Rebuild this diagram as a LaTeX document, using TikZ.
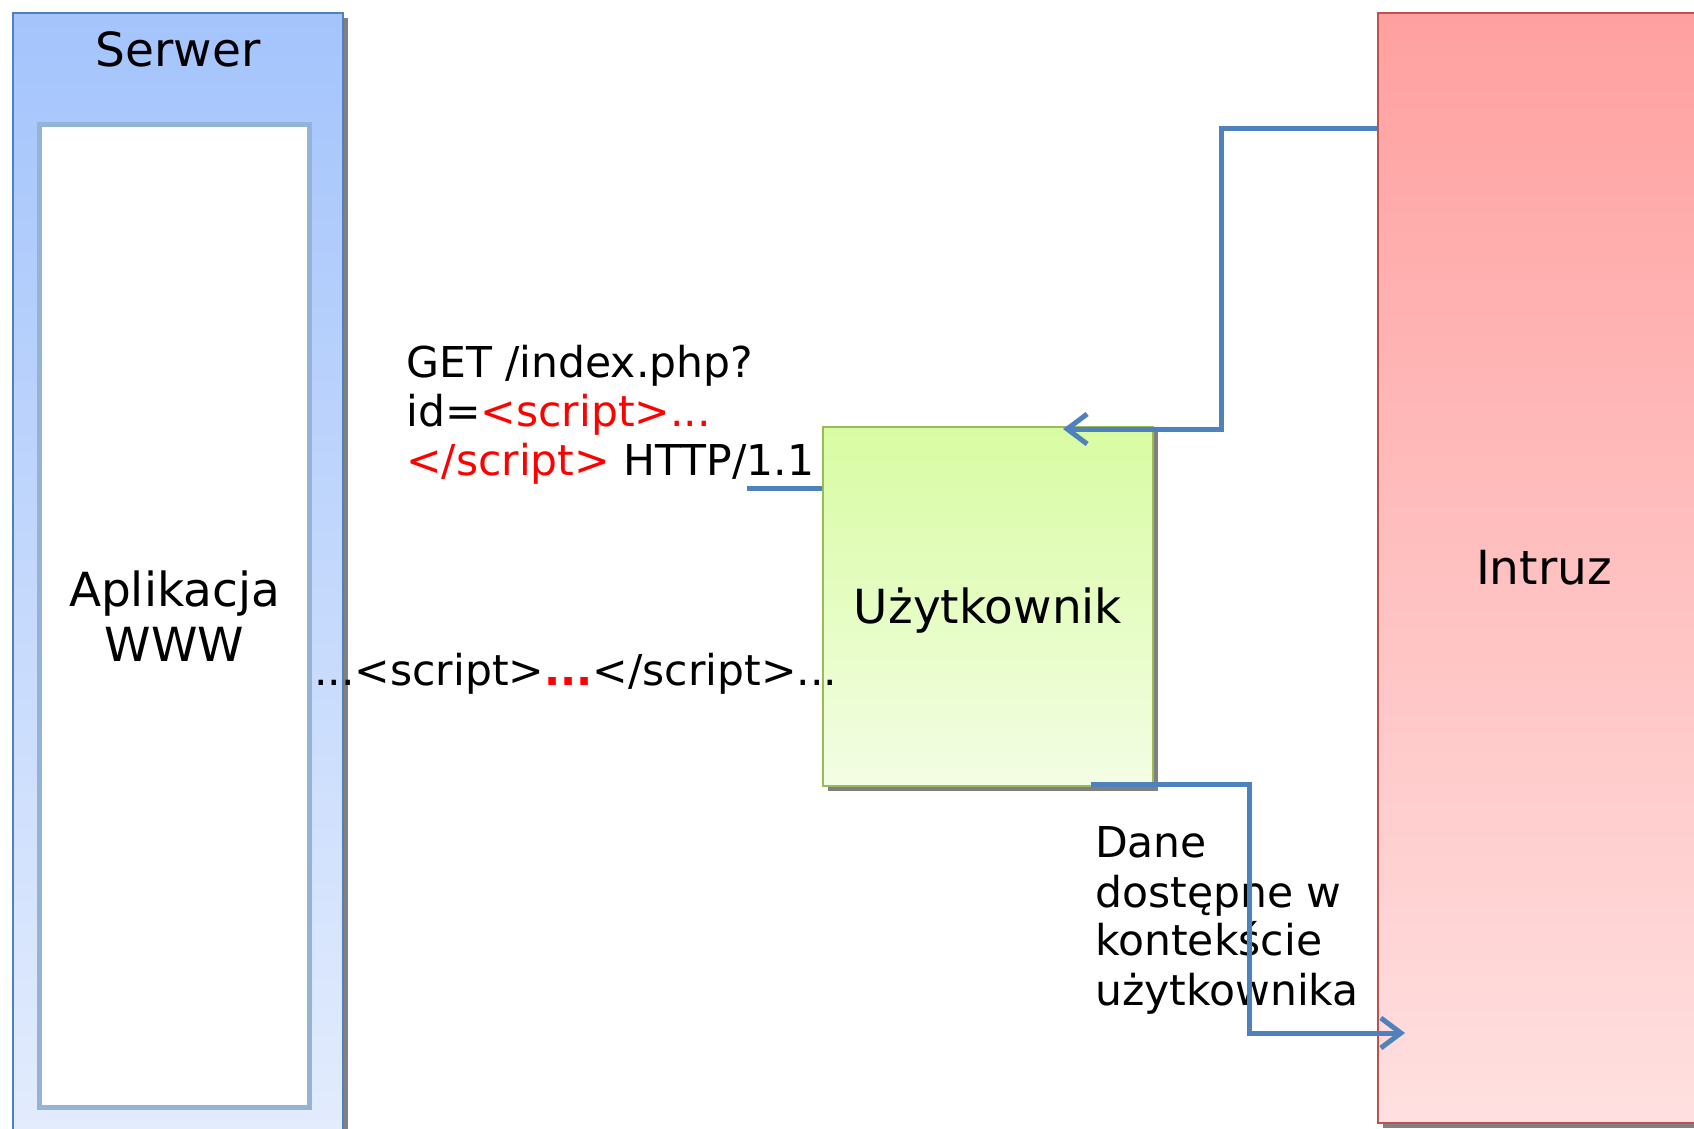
\documentclass[tikz,border=0pt]{standalone}
\usepackage{fontspec}
\setmainfont{DejaVu Sans}
\usetikzlibrary{arrows.meta,shadows}

\definecolor{srvtop}{RGB}{164,196,252}
\definecolor{srvbot}{RGB}{228,237,253}
\definecolor{srvline}{RGB}{79,129,189}
\definecolor{appline}{RGB}{149,179,215}
\definecolor{usrtop}{RGB}{216,252,162}
\definecolor{usrbot}{RGB}{243,253,228}
\definecolor{usrline}{RGB}{155,187,89}
\definecolor{inttop}{RGB}{255,160,160}
\definecolor{intbot}{RGB}{255,224,224}
\definecolor{intline}{RGB}{192,80,77}
\definecolor{linkblue}{RGB}{79,129,189}
\definecolor{shadowgray}{RGB}{128,128,128}

\begin{document}
\begin{tikzpicture}[x=1pt,y=-1pt,
  box/.style={rectangle, draw, line width=2pt, inner sep=0pt,
    drop shadow={shadow xshift=5pt, shadow yshift=-5pt, opacity=1, fill=shadowgray}},
  big/.style={font=\fontsize{47}{54.5}\selectfont},
  mid/.style={font=\fontsize{42.5}{49}\selectfont},
  link/.style={draw=linkblue, line width=5pt},
  tip/.style={-{Straight Barb[length=20pt,width=30pt]}}]

\useasboundingbox (0,0) rectangle (1694,1129);
\clip (0,0) rectangle (1694,1129);

% server with the web application inside
\node[box, draw=srvline, top color=srvtop, bottom color=srvbot,
      minimum width=330pt, minimum height=1147pt] (srv) at (178,586.5) {};
\node[rectangle, draw=appline, line width=5pt, fill=white, inner sep=0pt,
      minimum width=270pt, minimum height=982pt, big, align=center]
      (app) at (174.5,616) {Aplikacja\\WWW};
\node[big, anchor=base] (srvlabel) at (178,67) {Serwer};

% user
\node[box, draw=usrline, top color=usrtop, bottom color=usrbot,
      minimum width=330pt, minimum height=359pt] (usr) at (988,606.5) {};
\node[big, anchor=base] (usrlabel) at (988,623) {Użytkownik};

% intruder
\node[box, draw=intline, top color=inttop, bottom color=intbot,
      minimum width=330pt, minimum height=1110pt] (intr) at (1543,568) {};
\node[big, anchor=base] (intrlabel) at (1544,584) {Intruz};

% request sent by the user
\node[mid, anchor=base west, inner sep=0pt] (get1) at (406,377) {GET /index.php?};
\node[mid, anchor=base west, inner sep=0pt] (get2) at (406,426) {id=\textcolor{red}{<script>...}};
\node[mid, anchor=base west, inner sep=0pt] (get3) at (406,475) {\textcolor{red}{</script>} HTTP/1.1};

% response returned by the server
\node[mid, anchor=base west, inner sep=0pt] (resp) at (314,685)
  {...<script>\textcolor{red}{\bfseries ...}</script>...};

% data leaking to the intruder
\node[mid, anchor=base west, inner sep=0pt] (dane1) at (1095,857) {Dane};
\node[mid, anchor=base west, inner sep=0pt] (dane2) at (1095,907) {dostępne w};
\node[mid, anchor=base west, inner sep=0pt] (dane3) at (1095,955) {kontekście};
\node[mid, anchor=base west, inner sep=0pt] (dane4) at (1095,1005) {użytkownika};

% connectors
\coordinate (reqend) at (747,488);
\draw[link] (reqend) -- (reqend -| usr.west);

\coordinate (tipA) at (1063,429);
\draw[link, tip] ([yshift=-117pt]intr.north west) -| (1221,429) -- (tipA);

\coordinate (leak) at (1091,784);
\coordinate (tipB) at (1405,1033);
\draw[link, tip] (leak) -| (1249,1033) -- (tipB);

\end{tikzpicture}
\end{document}
